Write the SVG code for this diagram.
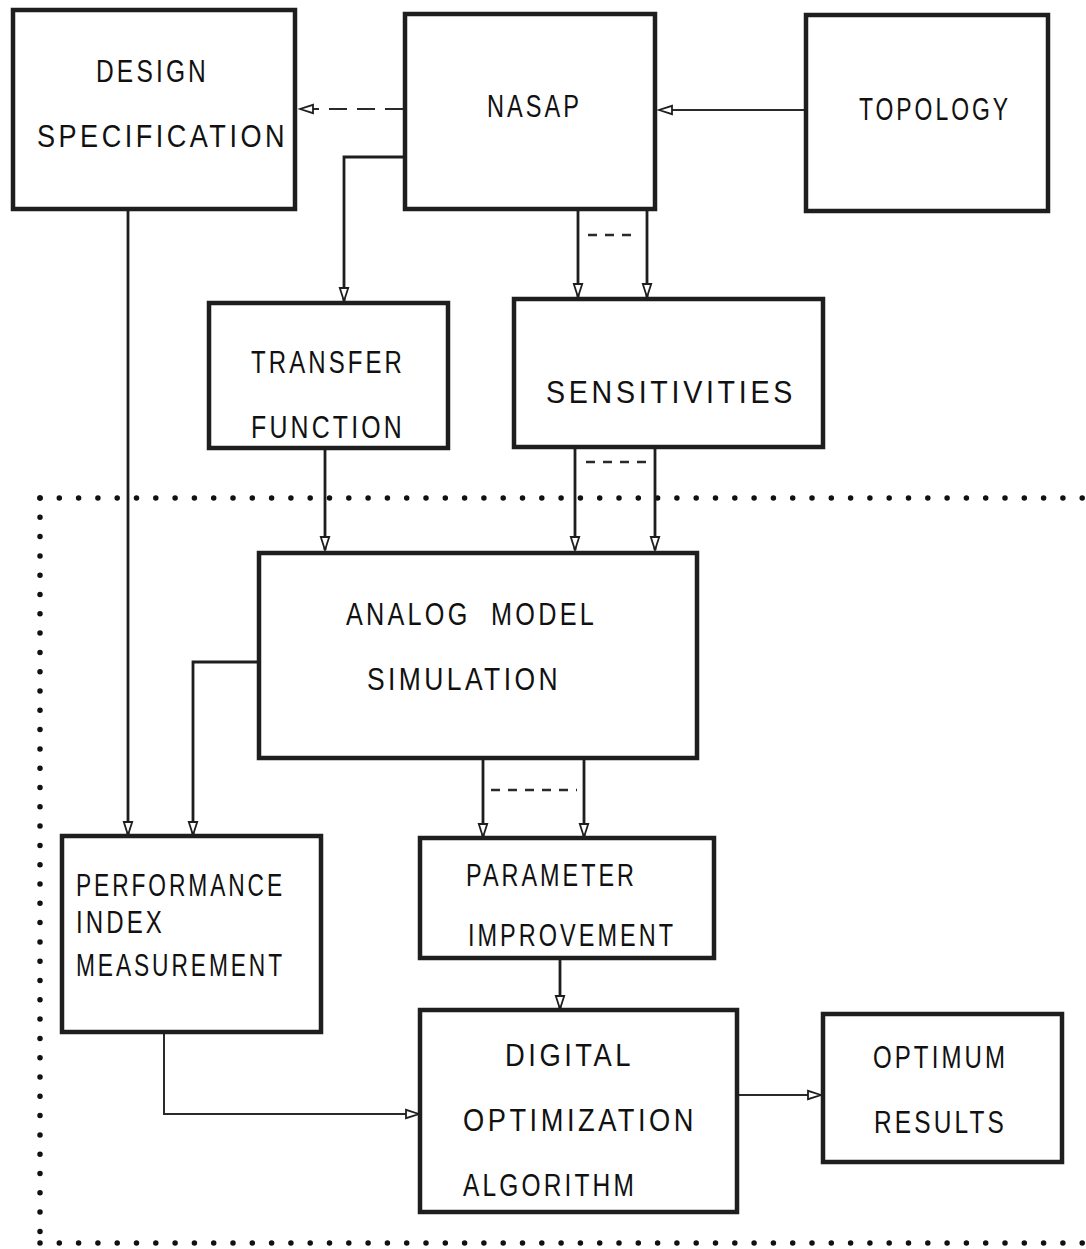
<svg xmlns="http://www.w3.org/2000/svg" width="1086" height="1249" viewBox="0 0 1086 1249">
<style>
.box{fill:none;stroke:#1e1e1e;stroke-width:4.5}
.lbl{font-family:"Liberation Sans",Arial,sans-serif;font-size:31px;letter-spacing:4px;fill:#111;white-space:pre}
.c{fill:none;stroke:#1e1e1e;stroke-width:2.8}
.h{fill:none;stroke:#2a2a2a;stroke-width:2}
.d{fill:none;stroke:#2a2a2a;stroke-width:2.6;stroke-dasharray:9 8}
.dot{fill:none;stroke:#111;stroke-width:5.5;stroke-linecap:round;stroke-dasharray:0 19.3}
</style>
<defs>
<marker id="ah" markerUnits="userSpaceOnUse" markerWidth="18" markerHeight="12" viewBox="-15 -6 17 12" refX="0" refY="0" orient="auto">
<path d="M0,0 L-13,-4.2 L-13,4.2 Z" fill="#fff" stroke="#1e1e1e" stroke-width="1.8"/>
</marker>
</defs>
<rect width="1086" height="1249" fill="#fff"/>

<g id="boundary">
<path class="dot" d="M40,498 H1086"/>
<path class="dot" d="M40,498 V1243"/>
<path class="dot" d="M40,1243 H1086"/>
</g>

<g id="connectors">
<path class="h" d="M403,109 H300" stroke-dasharray="18 10" marker-end="url(#ah)"/>
<path class="h" d="M806,110 H659" marker-end="url(#ah)"/>
<path class="c" d="M403,157 H344 V301" marker-end="url(#ah)"/>
<path class="c" d="M578,210 V297" marker-end="url(#ah)"/>
<path class="c" d="M647,210 V297" marker-end="url(#ah)"/>
<path class="d" d="M588,235 H638"/>
<path class="c" d="M128,210 V835" marker-end="url(#ah)"/>
<path class="c" d="M325,448 V550" marker-end="url(#ah)"/>
<path class="c" d="M575,447 V550" marker-end="url(#ah)"/>
<path class="c" d="M655,447 V550" marker-end="url(#ah)"/>
<path class="d" d="M586,462 H652"/>
<path class="c" d="M258,662 H193 V835" marker-end="url(#ah)"/>
<path class="c" d="M483,758 V837" marker-end="url(#ah)"/>
<path class="c" d="M584,758 V837" marker-end="url(#ah)"/>
<path class="d" d="M491,790 H577"/>
<path class="c" d="M560,958 V1009" marker-end="url(#ah)"/>
<path class="h" d="M164,1032 V1114 H419" marker-end="url(#ah)"/>
<path class="h" d="M737,1095 H821" marker-end="url(#ah)"/>
</g>

<g id="design-spec">
<rect class="box" x="13" y="10" width="282" height="199"/>
<text class="lbl" x="96" y="82" textLength="113" lengthAdjust="spacingAndGlyphs">DESIGN</text>
<text class="lbl" x="37" y="147" textLength="251" lengthAdjust="spacingAndGlyphs">SPECIFICATION</text>
</g>

<g id="nasap">
<rect class="box" x="405" y="14" width="250" height="195"/>
<text class="lbl" x="487" y="117" textLength="95" lengthAdjust="spacingAndGlyphs">NASAP</text>
</g>

<g id="topology">
<rect class="box" x="806" y="15" width="242" height="196"/>
<text class="lbl" x="859" y="120" textLength="152" lengthAdjust="spacingAndGlyphs">TOPOLOGY</text>
</g>

<g id="transfer-function">
<rect class="box" x="209" y="303" width="239" height="145"/>
<text class="lbl" x="251" y="373" textLength="154" lengthAdjust="spacingAndGlyphs">TRANSFER</text>
<text class="lbl" x="251" y="438" textLength="154" lengthAdjust="spacingAndGlyphs">FUNCTION</text>
</g>

<g id="sensitivities">
<rect class="box" x="514" y="299" width="309" height="148"/>
<text class="lbl" x="546" y="403" textLength="250" lengthAdjust="spacingAndGlyphs">SENSITIVITIES</text>
</g>

<g id="analog-model">
<rect class="box" x="259" y="553" width="438" height="205"/>
<text class="lbl" x="346" y="625" textLength="251" lengthAdjust="spacingAndGlyphs">ANALOG  MODEL</text>
<text class="lbl" x="367" y="690" textLength="194" lengthAdjust="spacingAndGlyphs">SIMULATION</text>
</g>

<g id="performance-index">
<rect class="box" x="62" y="836" width="259" height="196"/>
<text class="lbl" x="76" y="896" textLength="209" lengthAdjust="spacingAndGlyphs">PERFORMANCE</text>
<text class="lbl" x="76" y="933" textLength="89" lengthAdjust="spacingAndGlyphs">INDEX</text>
<text class="lbl" x="76" y="976" textLength="209" lengthAdjust="spacingAndGlyphs">MEASUREMENT</text>
</g>

<g id="parameter-improvement">
<rect class="box" x="420" y="838" width="294" height="120"/>
<text class="lbl" x="466" y="886" textLength="171" lengthAdjust="spacingAndGlyphs">PARAMETER</text>
<text class="lbl" x="468" y="946" textLength="208" lengthAdjust="spacingAndGlyphs">IMPROVEMENT</text>
</g>

<g id="digital-optimization">
<rect class="box" x="420" y="1010" width="317" height="202"/>
<text class="lbl" x="505" y="1066" textLength="129" lengthAdjust="spacingAndGlyphs">DIGITAL</text>
<text class="lbl" x="463" y="1131" textLength="234" lengthAdjust="spacingAndGlyphs">OPTIMIZATION</text>
<text class="lbl" x="463" y="1196" textLength="174" lengthAdjust="spacingAndGlyphs">ALGORITHM</text>
</g>

<g id="optimum-results">
<rect class="box" x="823" y="1014" width="239" height="148"/>
<text class="lbl" x="873" y="1068" textLength="135" lengthAdjust="spacingAndGlyphs">OPTIMUM</text>
<text class="lbl" x="874" y="1133" textLength="133" lengthAdjust="spacingAndGlyphs">RESULTS</text>
</g>
</svg>
